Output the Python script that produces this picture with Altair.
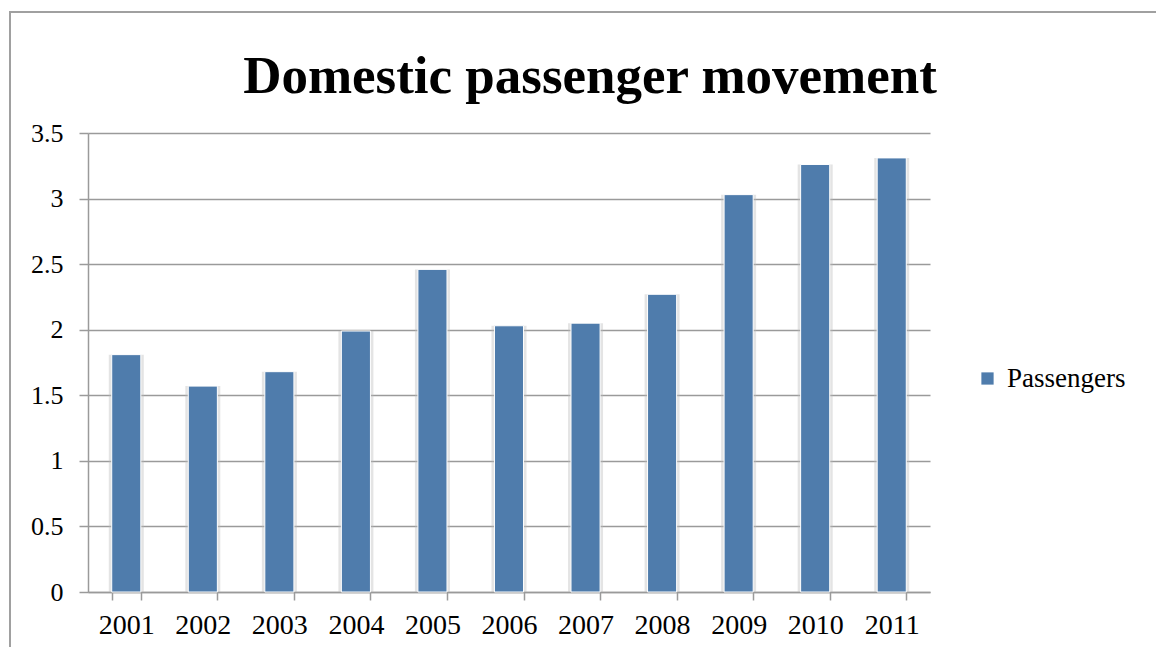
import altair as alt
import pandas as pd

years = ["2001", "2002", "2003", "2004", "2005", "2006", "2007", "2008", "2009", "2010", "2011"]
passengers = [1.81, 1.57, 1.68, 1.99, 2.46, 2.03, 2.05, 2.27, 3.03, 3.26, 3.31]
series_name = "Passengers"
y_ticks = [0, 0.5, 1, 1.5, 2, 2.5, 3, 3.5]
title_text = "Domestic passenger movement"

df = pd.DataFrame({"Year": years, "Value": passengers, "Series": [series_name] * len(years)})

FONT = "Liberation Serif"
BAR = "#4F7CAC"
GRID = "#9A9A9A"

frame = alt.Chart(alt.Data(values=[{"f": 1}])).mark_rect(
    fill=None, stroke="#A0A0A0", strokeWidth=2
).encode(
    x=alt.value(-78), x2=alt.value(1074), y=alt.value(-121), y2=alt.value(560)
)

title = alt.Chart(alt.Data(values=[{"t": title_text}])).mark_text(
    font=FONT, fontSize=53, fontWeight="bold", color="black",
    align="center", baseline="alphabetic"
).encode(x=alt.value(502), y=alt.value(-40), text="t:N")

xenc = alt.X("Year:N", sort=years,
             scale=alt.Scale(paddingInner=0.62, paddingOuter=0.31),
             axis=alt.Axis(title=None, labelAngle=0, tickBand="extent",
                           labelFont=FONT, labelFontSize=28, labelColor="black",
                           labelPadding=11, tickSize=8, tickColor=GRID,
                           domainColor=GRID, tickWidth=1.5, domainWidth=1.5,
                           grid=False))
yenc = alt.Y("Value:Q", scale=alt.Scale(domain=[0, 3.5], nice=False),
             axis=alt.Axis(title=None, values=y_ticks, format="~g", labelFont=FONT,
                           labelFontSize=26, labelColor="black", labelPadding=16,
                           tickSize=9, tickColor=GRID, domainColor=GRID,
                           tickWidth=1.5, domainWidth=1.5,
                           grid=True, gridColor=GRID, gridWidth=1.5))

shadow = alt.Chart(df).mark_bar(color="#BBBBBB", opacity=0.4, width=35).encode(
    x=xenc,
    y=yenc,
)

bars = alt.Chart(df).mark_bar(stroke="white", strokeWidth=1).encode(
    x=xenc,
    y=yenc,
    color=alt.Color("Series:N", scale=alt.Scale(domain=[series_name], range=[BAR]),
                    legend=alt.Legend(title=None, orient="none", legendX=886, legendY=232,
                                      symbolType="square", symbolSize=150,
                                      symbolStrokeWidth=0, labelFont=FONT,
                                      labelFontSize=27, labelColor="black",
                                      labelOffset=6)),
)

chart = alt.layer(frame, shadow, bars, title).properties(
    width=842, height=459,
    autosize=alt.AutoSizeParams(type="none"),
    padding={"left": 80, "top": 125, "right": 226, "bottom": 55},
).configure_view(stroke=None)

chart.save("out.html", embed_options={"renderer": "svg", "actions": False})
